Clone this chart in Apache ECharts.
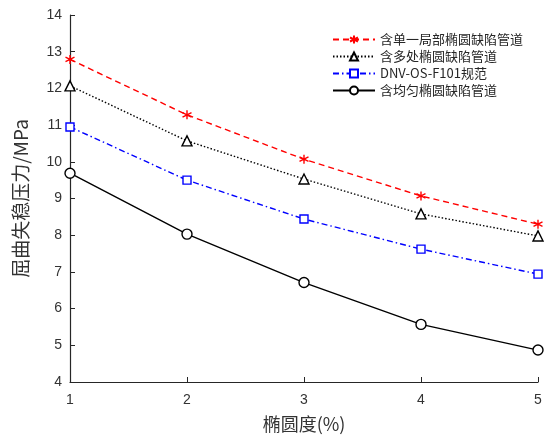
<!DOCTYPE html>
<html><head><meta charset="utf-8">
<script src="https://cdn.jsdelivr.net/npm/echarts@6/dist/echarts.min.js"></script>
<style>html,body{margin:0;padding:0;background:#fff}#c{width:547px;height:438px}</style>
</head><body><div id="c"></div>
<script>
const ovality = [1, 2, 3, 4, 5];
const localDefect = [12.79, 11.28, 10.07, 9.07, 8.30];
const multiDefect = [12.07, 10.57, 9.53, 8.58, 7.98];
const dnvCode = [10.95, 9.50, 8.44, 7.62, 6.94];
const uniformDefect = [9.69, 8.03, 6.71, 5.57, 4.87];
const names = ['含单一局部椭圆缺陷管道', '含多处椭圆缺陷管道', 'DNV-OS-F101规范', '含均匀椭圆缺陷管道'];
const yTicks = [4, 5, 6, 7, 8, 9, 10, 11, 12, 13, 14];

const pair = arr => ovality.map((x, i) => [x, arr[i]]);
const star = 'path://M0,-1L0,1M-0.87,-0.5L0.87,0.5M-0.87,0.5L0.87,-0.5';
const axisColor = '#262626';
const chart = echarts.init(document.getElementById('c'));
function mk(name, data, color, type, symbol, size, fill) {
  return {
    name, type: 'line', data: pair(data), symbol, symbolSize: size,
    lineStyle: { color, width: 1.4, type },
    itemStyle: { color: fill, borderColor: color, borderWidth: 1.4 },
    emphasis: { disabled: true }, animation: false
  };
}
chart.setOption({
  animation: false,
  grid: { left: 70, right: 9, top: 15, bottom: 56 },
  legend: {
    right: 19, top: 28, orient: 'vertical', itemWidth: 42, itemHeight: 10, itemGap: 4,
    textStyle: { fontFamily: 'Noto Sans CJK SC', fontSize: 13, color: '#262626' },
    data: names
  },
  xAxis: {
    type: 'value', min: 1, max: 5, interval: 1,
    name: '椭圆度(%)', nameLocation: 'middle', nameGap: 33,
    nameTextStyle: { fontFamily: 'Noto Sans CJK SC', fontSize: 18, color: '#333' },
    axisLine: { lineStyle: { color: axisColor, width: 1.2 } },
    axisTick: { inside: true, length: 5, lineStyle: { color: axisColor } },
    axisLabel: { fontFamily: 'Liberation Sans', fontSize: 14, color: '#333', margin: 11 },
    splitLine: { show: false }
  },
  yAxis: {
    type: 'value', min: yTicks[0], max: yTicks[yTicks.length - 1], interval: 1,
    name: '屈曲失稳压力/MPa', nameLocation: 'middle', nameGap: 40,
    nameTextStyle: { fontFamily: 'Noto Sans CJK SC', fontSize: 19, color: '#333' },
    axisLine: { show: true, lineStyle: { color: axisColor, width: 1.2 } },
    axisTick: { show: true, inside: true, length: 5, lineStyle: { color: axisColor } },
    axisLabel: { fontFamily: 'Liberation Sans', fontSize: 14, color: '#333', margin: 8 },
    splitLine: { show: false }
  },
  series: [
    mk(names[0], localDefect, '#ff0000', [6, 4], star, 9, '#ff0000'),
    mk(names[1], multiDefect, '#000000', [1.5, 2], 'triangle', 10, '#ffffff'),
    mk(names[2], dnvCode, '#0000ff', [6, 3, 1.5, 3], 'rect', 8, '#ffffff'),
    mk(names[3], uniformDefect, '#000000', 'solid', 'circle', 10, '#ffffff')
  ]
});
</script></body></html>
